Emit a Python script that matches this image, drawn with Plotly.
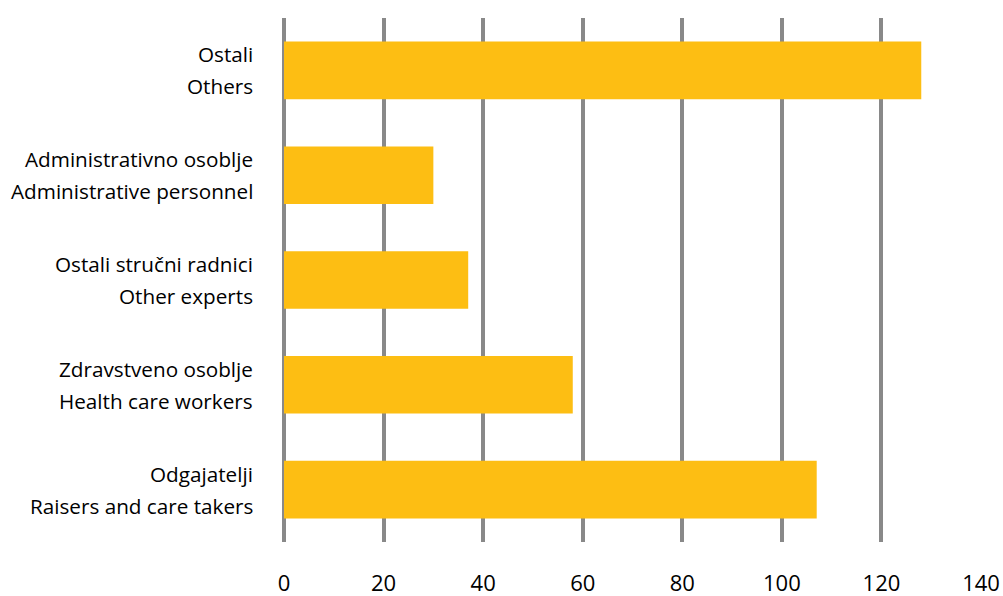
import plotly.graph_objects as go

# Categories from bottom to top (as drawn)
labels_hr = ["Odgajatelji", "Zdravstveno osoblje", "Ostali stručni radnici",
             "Administrativno osoblje", "Ostali"]
labels_en = ["Raisers and care takers", "Health care workers", "Other experts",
             "Administrative personnel", "Others"]
values = [107, 58, 37, 30, 128]
x_ticks = [0, 20, 40, 60, 80, 100, 120, 140]

cats = [f"{a} / {b}" for a, b in zip(labels_hr, labels_en)]

FONT = "Open Sans"

fig = go.Figure()
fig.add_trace(go.Bar(
    x=values, y=cats, orientation="h",
    marker=dict(color="#FDBE13", line=dict(width=0)),
    hoverinfo="x+y",
))

annotations = []
for c, a, b in zip(cats, labels_hr, labels_en):
    annotations.append(dict(x=0, xref="paper", y=c, yref="y", text=a,
                            showarrow=False, xanchor="right", yanchor="middle",
                            xshift=-29, yshift=16,
                            font=dict(family=FONT, size=20.7, color="#000000")))
    annotations.append(dict(x=0, xref="paper", y=c, yref="y", text=b,
                            showarrow=False, xanchor="right", yanchor="middle",
                            xshift=-29, yshift=-16,
                            font=dict(family=FONT, size=20.7, color="#000000")))

fig.update_layout(
    width=1003, height=596,
    margin=dict(l=284, r=22, t=18, b=54, autoexpand=False),
    paper_bgcolor="white", plot_bgcolor="white",
    showlegend=False,
    bargap=0.45,
    annotations=annotations,
    font=dict(family=FONT, color="#000000"),
)
fig.update_xaxes(
    range=[0, 140], tickvals=x_ticks, ticktext=[str(v) for v in x_ticks],
    showgrid=True, gridcolor="#898989", gridwidth=3.5,
    zeroline=True, zerolinecolor="#898989", zerolinewidth=3.5,
    showline=False, ticks="", ticklabelstandoff=26, automargin=False,
    tickfont=dict(family=FONT, size=22, color="#000000"),
)
fig.update_yaxes(
    categoryorder="array", categoryarray=cats, automargin=False,
    showticklabels=False, showgrid=False, zeroline=False, showline=False, ticks="",
)

fig.write_html("out.html",
               config={"displayModeBar": False},
               post_script="document.body.style.margin='0';document.body.style.overflow='hidden';")
